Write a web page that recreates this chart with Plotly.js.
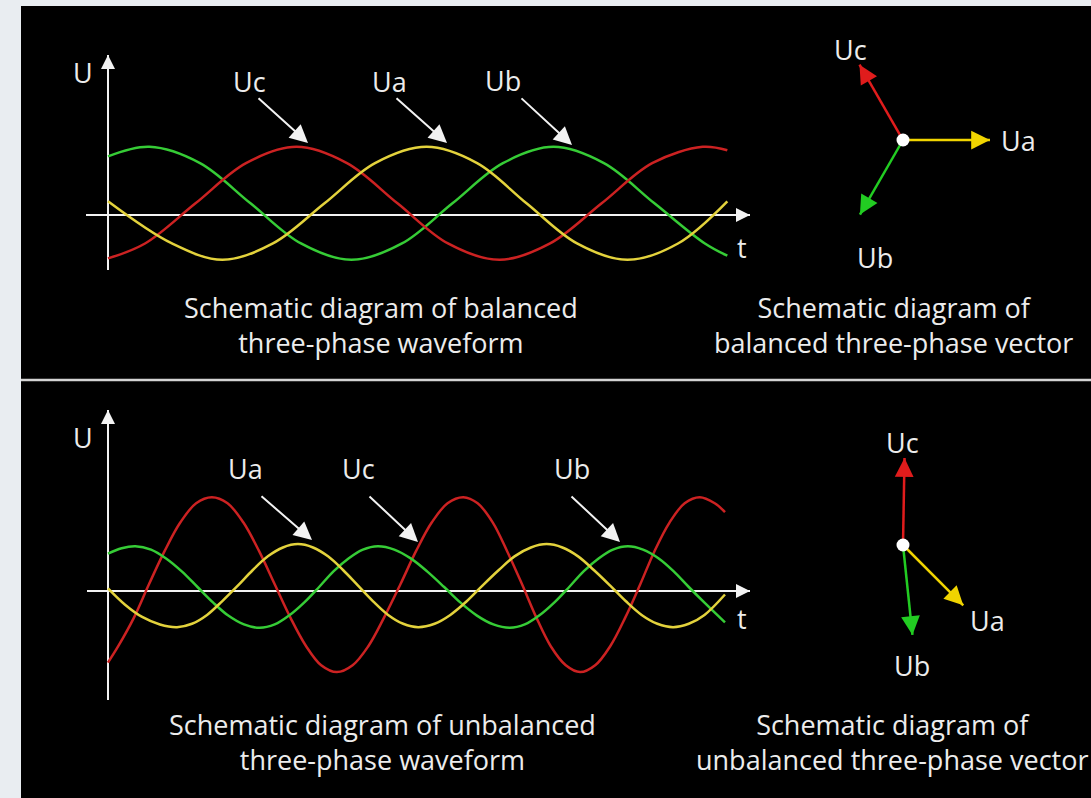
<!DOCTYPE html>
<html>
<head>
<meta charset="utf-8">
<script src="https://cdn.plot.ly/plotly-3.0.1.min.js"></script>
<style>
  html, body { margin: 0; padding: 0; background: #e9edf1; }
  #myDiv { width: 1091px; height: 798px; }
</style>
</head>
<body>
<div id="myDiv"></div>
<script>
// balanced waveform, t in degrees, U in per-unit
const balYellowT = [0, 57, 102, 147, 193, 238, 284, 329, 373, 418, 463, 508, 552];
const balYellowU = [0.2, -0.42, -0.66, -0.42, 0.17, 0.76, 1.0, 0.76, 0.17, -0.42, -0.66, -0.42, 0.2];
const balGreenT = [0, 37, 82, 127, 172, 217, 262, 307, 352, 397, 442, 487, 532, 552];
const balGreenU = [0.86, 1.0, 0.76, 0.17, -0.42, -0.66, -0.42, 0.17, 0.76, 1.0, 0.76, 0.17, -0.42, -0.6];
const balRedT = [0, 33, 78, 123, 168, 213, 258, 303, 349, 394, 440, 485, 530, 552];
const balRedU = [-0.64, -0.42, 0.17, 0.76, 1.0, 0.76, 0.17, -0.42, -0.66, -0.42, 0.17, 0.76, 1.0, 0.95];

// unbalanced waveform
const unbYellowT = [0, 25, 50, 76, 101, 123, 145, 167, 190, 212, 234, 256, 278, 300, 322, 344, 366, 388, 410, 432, 454,
    478, 501, 525, 548, 572, 595, 619, 642, 665, 688, 711, 735, 758, 781, 804, 827, 850, 873, 903];
const unbYellowU = [0.04, -0.2, -0.38, -0.49, -0.53, -0.48, -0.35, -0.15, 0.08, 0.31, 0.51, 0.64, 0.69, 0.64, 0.51, 0.31, 0.08, -0.15, -0.35, -0.48, -0.53,
    -0.48, -0.35, -0.15, 0.08, 0.31, 0.51, 0.64, 0.69, 0.64, 0.51, 0.31, 0.08, -0.15, -0.35, -0.48, -0.53, -0.48, -0.35, -0.05];
const unbGreenT = [0, 20, 40, 63, 85, 108, 131, 154, 176, 199, 222, 244, 265, 287, 309, 330, 352, 373, 395,
    419, 443, 467, 492, 516, 540, 564, 588, 610, 631, 653, 675, 696, 718, 739, 761, 783, 806, 828, 850, 873, 903];
const unbGreenU = [0.55, 0.63, 0.66, 0.61, 0.48, 0.29, 0.06, -0.17, -0.36, -0.49, -0.54, -0.49, -0.36, -0.17, 0.06, 0.29, 0.48, 0.61, 0.66,
    0.61, 0.48, 0.29, 0.06, -0.17, -0.36, -0.49, -0.54, -0.49, -0.36, -0.17, 0.06, 0.29, 0.48, 0.61, 0.66, 0.61, 0.48, 0.29, 0.06, -0.17, -0.46];
const unbRedT = [0, 15, 38, 60, 83, 106, 129, 152, 175, 198, 221, 244, 267, 290, 312, 335, 358, 381, 404, 428, 451, 474, 497, 520,
    541, 563, 584, 606, 627, 648, 670, 691, 713, 735, 757, 779, 800, 822, 844, 866, 888, 903];
const unbRedU = [-1.05, -0.81, -0.39, 0.1, 0.59, 1.01, 1.29, 1.38, 1.29, 1.01, 0.59, 0.1, -0.39, -0.81, -1.09, -1.19, -1.09, -0.81, -0.39, 0.1, 0.59, 1.01, 1.29, 1.38,
    1.29, 1.01, 0.59, 0.1, -0.39, -0.81, -1.09, -1.19, -1.09, -0.81, -0.39, 0.1, 0.59, 1.01, 1.29, 1.38, 1.29, 1.16];

// phasors: Ua, Ub, Uc (magnitude per-unit, angle in degrees)
const phases = ["Ua", "Ub", "Uc"];
const balMag = [1.0, 0.99, 1.0];
const balAng = [0, -120, 120];
const unbMag = [0.98, 1.04, 1.0];
const unbAng = [-45, -84, 89];

const waveColors = { Ua: "#e3d23c", Ub: "#36cc36", Uc: "#cc2222" };
const vecColors = { Ua: "#f0d400", Ub: "#22cc22", Uc: "#e01c1c" };

const W = 1091, H = 798;
const fx = p => p / W;
const fy = p => 1 - p / H;
const labelFont = { family: "Open Sans", size: 27, color: "#ececec" };
const captionFont = { family: "Open Sans", size: 27, color: "#ececec" };

function wave(t, u, color, xa, ya) {
    return {
        x: t, y: u, xaxis: xa, yaxis: ya, mode: "lines", hoverinfo: "skip",
        line: { color: color, width: 2.5, shape: "spline", smoothing: 1 }
    };
}

var data = [
    wave(balGreenT, balGreenU, waveColors.Ub, "x", "y"),
    wave(balRedT, balRedU, waveColors.Uc, "x", "y"),
    wave(balYellowT, balYellowU, waveColors.Ua, "x", "y"),
    wave(unbRedT, unbRedU, waveColors.Uc, "x2", "y2"),
    wave(unbGreenT, unbGreenU, waveColors.Ub, "x2", "y2"),
    wave(unbYellowT, unbYellowU, waveColors.Ua, "x2", "y2")
];

var annotations = [];

function phasors(mag, ang, xa, ya) {
    phases.forEach(function (p, i) {
        var re = mag[i] * Math.cos(ang[i] * Math.PI / 180);
        var im = mag[i] * Math.sin(ang[i] * Math.PI / 180);
        data.push({
            x: [0, re], y: [0, im], xaxis: xa, yaxis: ya, mode: "lines", hoverinfo: "skip",
            line: { color: vecColors[p], width: 2.5 }
        });
        annotations.push({
            xref: xa, yref: ya, axref: xa, ayref: ya, x: re, y: im,
            ax: 0.8 * re, ay: 0.8 * im, text: "", showarrow: true,
            arrowhead: 2, arrowsize: 1.5, arrowwidth: 2.5, arrowcolor: vecColors[p]
        });
    });
    data.push({
        x: [0], y: [0], xaxis: xa, yaxis: ya, mode: "markers", hoverinfo: "skip",
        marker: { color: "#ffffff", size: 13 }
    });
}
phasors(balMag, balAng, "x3", "y3");
phasors(unbMag, unbAng, "x4", "y4");

// white arrows: axis heads and label pointers [headX, headY, dx, dy, size]
const whiteArrows = [
    [108, 55, 0, 22, 1.4], [750, 215, -22, 0, 1.4],
    [108, 410, 0, 22, 1.4], [750, 591, -22, 0, 1.4],
    [308, 143, -51, -46, 1.8], [447, 143, -52, -46, 1.8], [572, 145, -52, -48, 1.8],
    [312, 540, -52, -45, 1.8], [418, 542, -50, -47, 1.8], [620, 542, -50, -47, 1.8]
];
whiteArrows.forEach(function (a) {
    annotations.push({
        xref: "paper", yref: "paper", x: fx(a[0]), y: fy(a[1]), ax: a[2], ay: a[3],
        text: "", showarrow: true, arrowhead: 2, arrowsize: a[4], arrowwidth: 2, arrowcolor: "#f2f2f2"
    });
});

// text labels [text, centerX, centerY]
const labels = [
    ["U", 83, 73], ["Uc", 249, 82], ["Ua", 389, 82], ["Ub", 503, 81], ["t", 742, 247],
    ["Uc", 850, 50], ["Ua", 1018, 140], ["Ub", 875, 258],
    ["U", 83, 437], ["Ua", 245, 468], ["Uc", 358, 468], ["Ub", 572, 468], ["t", 742, 618],
    ["Uc", 902, 442], ["Ua", 987, 620], ["Ub", 912, 665]
];
labels.forEach(function (l) {
    annotations.push({
        xref: "paper", yref: "paper", x: fx(l[1]), y: fy(l[2]), text: l[0],
        showarrow: false, xanchor: "center", yanchor: "middle", font: labelFont
    });
});

const captions = [
    ["Schematic diagram of balanced<br>three-phase waveform", 381, 325],
    ["Schematic diagram of<br>balanced three-phase vector", 893, 325],
    ["Schematic diagram of unbalanced<br>three-phase waveform", 382, 742],
    ["Schematic diagram of<br>unbalanced three-phase vector", 892, 742]
];
captions.forEach(function (c) {
    annotations.push({
        xref: "paper", yref: "paper", x: fx(c[1]), y: fy(c[2]), text: c[0],
        showarrow: false, xanchor: "center", yanchor: "middle", align: "center", font: captionFont
    });
});

function waveAxis(range, domain) {
    return {
        range: range, domain: domain, showgrid: false, showticklabels: false, ticks: "",
        showline: false, zeroline: true, zerolinecolor: "#f2f2f2", zerolinewidth: 2, fixedrange: true
    };
}
function hidden(range, domain) {
    return { range: range, domain: domain, visible: false, fixedrange: true };
}

var layout = {
    width: W, height: H,
    margin: { l: 0, r: 0, t: 0, b: 0 },
    paper_bgcolor: "#e9edf1",
    plot_bgcolor: "rgba(0,0,0,0)",
    showlegend: false,
    xaxis: waveAxis([-19.6, 572.2], [fx(86), fx(750)]),
    yaxis: waveAxis([-0.81, 2.35], [fy(270), fy(55)]),
    xaxis2: waveAxis([-30.7, 939.6], [fx(87), fx(750)]),
    yaxis2: waveAxis([-1.60, 2.66], [fy(700), fy(410)]),
    xaxis3: hidden([-1.15, 1.15], [fx(803), fx(1003)]),
    yaxis3: hidden([-1.15, 1.15], [fy(240), fy(40)]),
    xaxis4: hidden([-1.15, 1.15], [fx(803), fx(1003)]),
    yaxis4: hidden([-1.15, 1.15], [fy(645), fy(445)]),
    shapes: [
        { type: "rect", xref: "paper", yref: "paper", x0: fx(21), x1: 1, y0: 0, y1: fy(6),
          fillcolor: "#000000", line: { width: 0 }, layer: "below" },
        { type: "line", xref: "paper", yref: "paper", x0: fx(21), x1: 1, y0: fy(380), y1: fy(380),
          line: { color: "#d4d4d4", width: 2.5 }, layer: "below" }
    ],
    annotations: annotations
};

Plotly.newPlot("myDiv", data, layout, { staticPlot: true, displayModeBar: false });
</script>
</body>
</html>
